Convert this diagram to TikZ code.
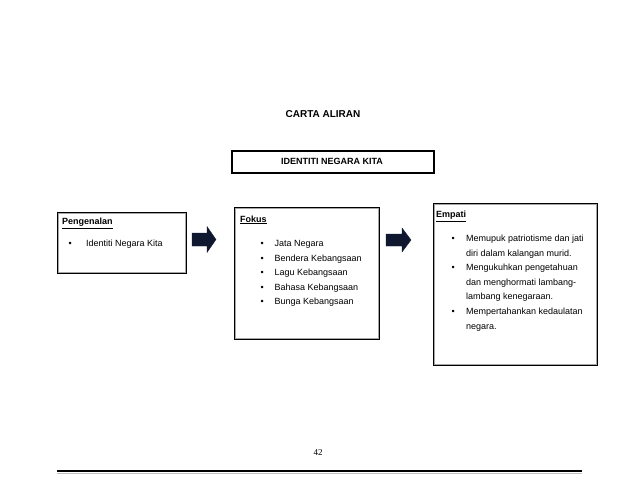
\documentclass[tikz,border=0pt]{standalone}
\usepackage{fontspec}
\setmainfont{Liberation Sans}
\newfontfamily\serifnum{Liberation Serif}
\definecolor{arrowc}{RGB}{16,24,48}
\newcommand{\bul}[1]{\makebox[#1][l]{\textbullet}}
\begin{document}
\begin{tikzpicture}[x=1pt,y=-1pt,
  boxsty/.style={draw=black,line width=1.6pt,anchor=north west,inner sep=0pt},
  headsty/.style={anchor=base west,inner sep=0pt,font=\fontsize{9}{11}\selectfont\bfseries},
  liststy/.style={anchor=base west,inner sep=0pt,align=left,font=\fontsize{9}{14.6}\selectfont},
  arrowfill/.style={fill=arrowc,draw=arrowc,line width=0.3pt,line join=miter},
  innerline/.style={draw=gray!70,line width=0.6pt}]
\useasboundingbox (0,0) rectangle (638,493);
\fill[white] (0,0) rectangle (638,493);
% title
\node[anchor=base,inner sep=0pt,font=\fontsize{10}{12}\selectfont\bfseries] (title) at (323,117) {CARTA ALIRAN};
% main box
\node[boxsty,minimum width=202pt,minimum height=22pt] (main) at (231,150) {};
\node[anchor=base,inner sep=0pt,font=\fontsize{9}{11}\selectfont\bfseries] (maint) at (332,164.5) {IDENTITI NEGARA KITA};
% shadows
\fill[gray!45] (59,214) rectangle (187,274);
\fill[gray!45] (236,209) rectangle (380,340);
\fill[gray!45] (435,205) rectangle (598,366);
% boxes
\node[boxsty,fill=white,minimum width=128pt,minimum height=60pt] (peng) at (57,212) {};
\node[boxsty,fill=white,minimum width=144pt,minimum height=131pt] (fokus) at (234,207) {};
\node[boxsty,fill=white,minimum width=163pt,minimum height=161pt] (empati) at (433,203) {};
\foreach \b in {peng,fokus,empati}{
  \draw[innerline] ([shift={(1.6pt,-1.6pt)}]\b.north west) rectangle ([shift={(-1.6pt,1.6pt)}]\b.south east);
}
% Pengenalan
\node[headsty] (pengh) at (62,224.5) {\underline{Pengenalan}};
\node[liststy] (pengl) at (68.5,246.5) {\bul{17.5pt}Identiti Negara Kita};
% Fokus
\node[headsty] (fokh) at (240,222) {\underline{Fokus}};
\node[liststy] (fokl) at (260.5,246.5) {\begin{tabular}[t]{@{}l@{}l@{}}
\bul{14pt}&Jata Negara\\
\bul{14pt}&Bendera Kebangsaan\\
\bul{14pt}&Lagu Kebangsaan\\
\bul{14pt}&Bahasa Kebangsaan\\
\bul{14pt}&Bunga Kebangsaan
\end{tabular}};
% Empati
\node[headsty] (emph) at (436,217.5) {\underline{Empati}};
\node[liststy] (empl) at (451.5,241.5) {\begin{tabular}[t]{@{}l@{}l@{}}
\bul{14.5pt}&Memupuk patriotisme dan jati\\
&diri dalam kalangan murid.\\
\bul{14.5pt}&Mengukuhkan pengetahuan\\
&dan menghormati lambang-\\
&lambang kenegaraan.\\
\bul{14.5pt}&Mempertahankan kedaulatan\\
&negara.
\end{tabular}};
% block arrows
\coordinate (a1) at (192,239.5);
\fill[arrowfill] (a1) ++(0,-6.5) -- ++(15,0) -- ++(0,-6.5) -- ++(9,13) -- ++(-9,13) -- ++(0,-6.5) -- ++(-15,0) -- cycle;
\coordinate (a2) at (386,240);
\fill[arrowfill] (a2) ++(0,-6) -- ++(16,0) -- ++(0,-6) -- ++(9,12) -- ++(-9,12) -- ++(0,-6) -- ++(-16,0) -- cycle;
% footer
\node[anchor=base,inner sep=0pt,font=\serifnum\fontsize{9}{11}\selectfont] (pg) at (318,455) {42};
\coordinate (rl) at (57,471);
\coordinate (rr) at (582,471);
\draw[gray!50,line width=1pt] ([yshift=-2pt]rl) -- ([yshift=-2pt]rr);
\draw[black,line width=2.4pt] (rl) -- (rr);
\end{tikzpicture}
\end{document}
